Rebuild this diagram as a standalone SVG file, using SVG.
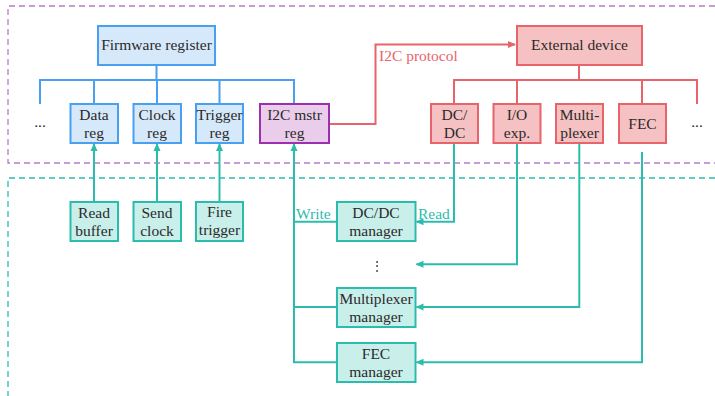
<svg xmlns="http://www.w3.org/2000/svg" width="715" height="396" viewBox="0 0 715 396">
<style>
text{font-family:'Liberation Serif','Times New Roman',serif;font-size:15.5px;fill:#2a2a2a;text-anchor:middle}
.blue{fill:#d6e9fb;stroke:#4aa0f0;stroke-width:2}
.purp{fill:#e9cdea;stroke:#9c30b0;stroke-width:2}
.red{fill:#f6c1c2;stroke:#e8646b;stroke-width:2}
.teal{fill:#c9efeb;stroke:#2cbcae;stroke-width:2}
.lb{fill:none;stroke:#4aa0f0;stroke-width:2}
.lr{fill:none;stroke:#e8646b;stroke-width:2}
.lt{fill:none;stroke:#2cbcae;stroke-width:2}
.lbl{font-size:15.5px;text-anchor:start}
</style>
<defs>
<marker id="at" viewBox="0 0 8 8" refX="7" refY="4" markerWidth="4" markerHeight="4" orient="auto"><path d="M0,0.5 L8,4 L0,7.5 Z" fill="#2cbcae"/></marker>
<marker id="ar" viewBox="0 0 8 8" refX="7" refY="4" markerWidth="4" markerHeight="4" orient="auto"><path d="M0,0.5 L8,4 L0,7.5 Z" fill="#e8646b"/></marker>
</defs>
<g id="regions">
<path d="M715,6 H8 V163 H715" fill="none" stroke="#b57cc6" stroke-width="1.3" stroke-dasharray="6,4"/>
<path d="M715,178 H8 V396" fill="none" stroke="#2cbcae" stroke-width="1.3" stroke-dasharray="6,4"/>
</g>
<g id="connectors">
<path class="lb" d="M156.5,65 V80 M40,104 V80 H294 V104 M94,80 V104 M157,80 V104 M219.5,80 V104"/>
<path class="lr" d="M579,65 V80 M454,104 V80 H697 V104 M517,80 V104 M642,80 V104"/>
<path class="lr" d="M329,124 H375.5 V44.5 H515" marker-end="url(#ar)"/>
<path class="lt" d="M94,202 V144" marker-end="url(#at)"/>
<path class="lt" d="M157,202 V144" marker-end="url(#at)"/>
<path class="lt" d="M219.5,202 V144" marker-end="url(#at)"/>
<path class="lt" d="M336.7,221.7 H294 V144" marker-end="url(#at)"/>
<path class="lt" d="M336.7,307 H294 M336.7,362.3 H294 V221"/>
<path class="lt" d="M454,143 V221.7 H416.5" marker-end="url(#at)"/>
<path class="lt" d="M517,143 V264.3 H416.5" marker-end="url(#at)"/>
<path class="lt" d="M579.3,143 V307 H416.5" marker-end="url(#at)"/>
<path class="lt" d="M642,152 V362.3 H416.5" marker-end="url(#at)"/>
<text class="lbl" x="296" y="218.5" style="fill:#2cbcae">Write</text>
<text class="lbl" x="418" y="218.5" style="fill:#2cbcae">Read</text>
<text class="lbl" x="379" y="61" style="fill:#e8646b">I2C protocol</text>
</g>
<g id="firmware-register"><rect class="blue" x="98" y="26" width="117" height="39"/><text x="156.5" y="49.5">Firmware register</text></g>
<g id="dots-left"><text x="40" y="127">...</text></g>
<g id="data-reg"><rect class="blue" x="70.5" y="104" width="47.5" height="39"/><text x="94" y="119.5">Data</text><text x="94" y="137.5">reg</text></g>
<g id="clock-reg"><rect class="blue" x="133.5" y="104" width="47.5" height="39"/><text x="157" y="119.5">Clock</text><text x="157" y="137.5">reg</text></g>
<g id="trigger-reg"><rect class="blue" x="196" y="104" width="47" height="39"/><text x="219.5" y="119.5">Trigger</text><text x="219.5" y="137.5">reg</text></g>
<g id="i2c-mstr-reg"><rect class="purp" x="260" y="104" width="69" height="39"/><text x="294.5" y="119.5">I2C mstr</text><text x="294.5" y="137.5">reg</text></g>
<g id="external-device"><rect class="red" x="517" y="26" width="125" height="39"/><text x="579.5" y="49.5">External device</text></g>
<g id="dcdc"><rect class="red" x="431" y="104" width="47" height="39"/><text x="454.5" y="119.5">DC/</text><text x="454.5" y="137.5">DC</text></g>
<g id="io-exp"><rect class="red" x="493.5" y="104" width="47" height="39"/><text x="517" y="119.5">I/O</text><text x="517" y="137.5">exp.</text></g>
<g id="multiplexer"><rect class="red" x="556" y="104" width="47" height="39"/><text x="579.5" y="119.5">Multi-</text><text x="579.5" y="137.5">plexer</text></g>
<g id="fec"><rect class="red" x="619" y="104" width="47" height="39"/><text x="642.5" y="129">FEC</text></g>
<g id="dots-right"><text x="697" y="127">...</text></g>
<g id="read-buffer"><rect class="teal" x="70.5" y="202" width="47.5" height="39"/><text x="94" y="217.5">Read</text><text x="94" y="235.5">buffer</text></g>
<g id="send-clock"><rect class="teal" x="133.5" y="202" width="47.5" height="39"/><text x="157" y="217.5">Send</text><text x="157" y="235.5">clock</text></g>
<g id="fire-trigger"><rect class="teal" x="196" y="202" width="47" height="39"/><text x="219.5" y="216.5">Fire</text><text x="219.5" y="234.5">trigger</text></g>
<g id="dcdc-manager"><rect class="teal" x="337" y="202" width="78.5" height="39"/><text x="376" y="217.5">DC/DC</text><text x="376" y="235.5">manager</text></g>
<g id="vdots"><text x="377" y="270" style="font-size:12px">⋮</text></g>
<g id="multiplexer-manager"><rect class="teal" x="337" y="288" width="78.5" height="39"/><text x="376" y="303.5">Multiplexer</text><text x="376" y="321.5">manager</text></g>
<g id="fec-manager"><rect class="teal" x="337" y="343" width="78.5" height="39"/><text x="376" y="358.5">FEC</text><text x="376" y="376.5">manager</text></g>
</svg>
